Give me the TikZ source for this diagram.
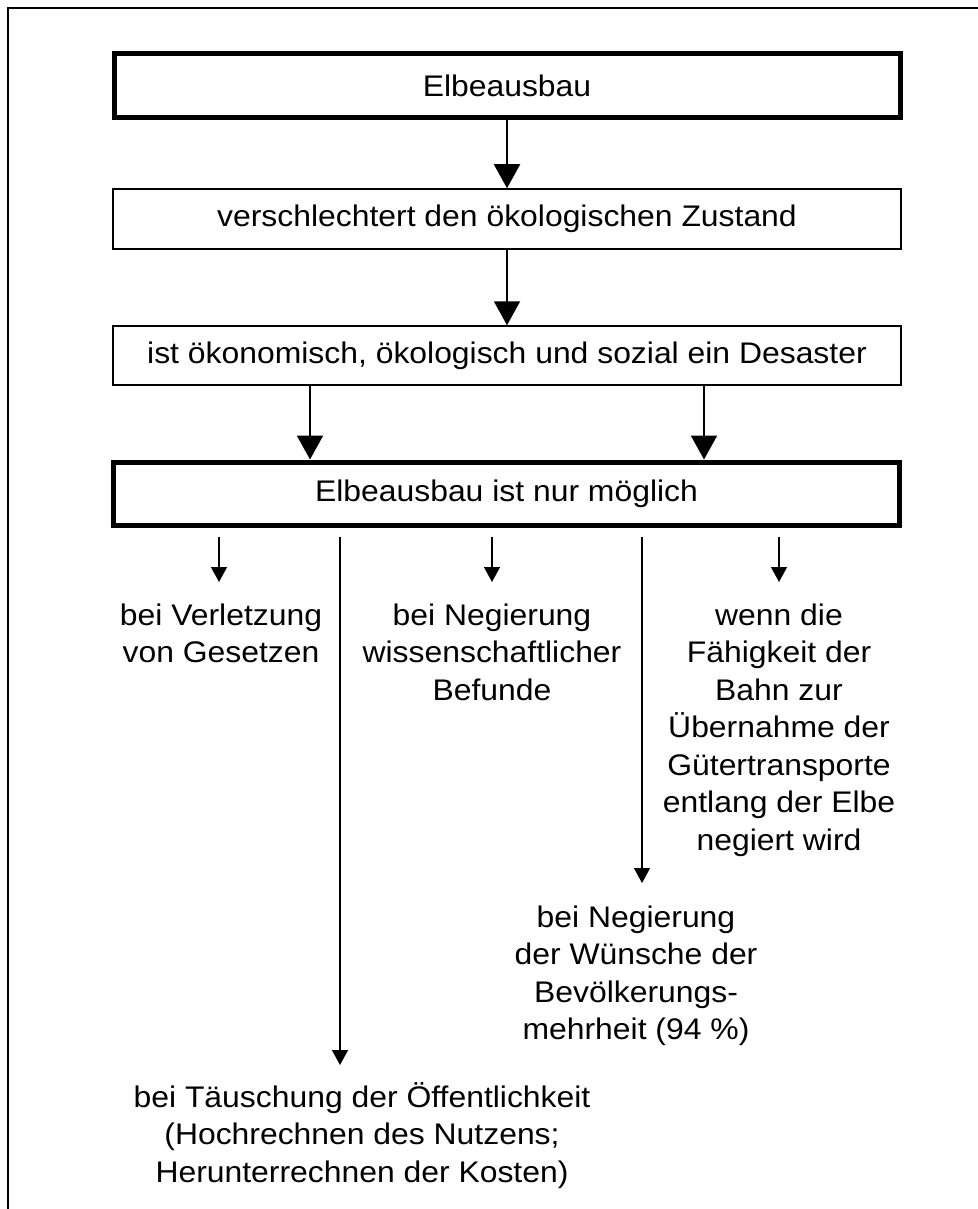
\documentclass[tikz,border=0pt]{standalone}
\usepackage{fontspec}
\setmainfont[FakeStretch=1.07]{Liberation Sans}
\usetikzlibrary{arrows.meta}
\begin{document}
\begin{tikzpicture}[x=0.5pt,y=-0.5pt,
  thickbox/.style={draw,line width=2.5pt,inner sep=0pt,minimum width=393pt,minimum height=32pt},
  thinbox/.style={draw,line width=0.75pt,inner sep=0pt,minimum width=394pt,minimum height=30pt},
  bigarrow/.style={line width=1pt,-{Triangle[width=13pt,length=12pt]}},
  smallarrow/.style={line width=0.65pt,-{Triangle[width=8pt,length=7.5pt]}},
  lbl/.style={align=center,anchor=base,inner sep=0pt},
  every node/.style={font=\fontsize{14.9}{18.75}\selectfont}]
\useasboundingbox (0,0) rectangle (978,1209);
\draw[line width=0.75pt] (8,1209) -- (8,8) -- (978,8);
\node[thickbox] (b1) at (507,86) {Elbeausbau};
\node[thinbox] (b2) at (507,219) {verschlechtert den ökologischen Zustand};
\node[thinbox, minimum height=29.5pt] (b3) at (507,355.5) {ist ökonomisch, ökologisch und sozial ein Desaster};
\node[thickbox, minimum height=31.5pt] (b4) at (506.5,493.5) {Elbeausbau ist nur möglich};
\draw[bigarrow] (b1.south) -- (b2.north);
\draw[bigarrow] (b2.south) -- (b3.north);
\coordinate (cl) at (310,0);
\coordinate (cr) at (704,0);
\draw[bigarrow] (b3.south -| cl) -- (b4.north -| cl);
\draw[bigarrow] (b3.south -| cr) -- (b4.north -| cr);
\node[lbl] (t1) at (221,662.5) {bei Verletzung\\von Gesetzen};
\node[lbl] (t2) at (492,700) {bei Negierung\\wissenschaftlicher\\Befunde};
\node[lbl] (t3) at (779,850) {wenn die\\Fähigkeit der\\Bahn zur\\Übernahme der\\Gütertransporte\\entlang der Elbe\\negiert wird};
\node[lbl] (t4) at (636,1039.5) {bei Negierung\\der Wünsche der\\Bevölkerungs-\\mehrheit (94~\%)};
\node[lbl] (t5) at (362,1182) {bei Täuschung der Öffentlichkeit\\(Hochrechnen des Nutzens;\\Herunterrechnen der Kosten)};
\coordinate (s1) at (219,537); \coordinate (e1) at (219,582);
\coordinate (s2) at (492,537); \coordinate (e2) at (492,582);
\coordinate (s3) at (779,537); \coordinate (e3) at (779,582);
\coordinate (s4) at (642,537); \coordinate (e4) at (642,883);
\coordinate (s5) at (340,537); \coordinate (e5) at (340,1065);
\draw[smallarrow] (s1) -- (e1);
\draw[smallarrow] (s2) -- (e2);
\draw[smallarrow] (s3) -- (e3);
\draw[smallarrow] (s4) -- (e4);
\draw[smallarrow] (s5) -- (e5);
\end{tikzpicture}
\end{document}
